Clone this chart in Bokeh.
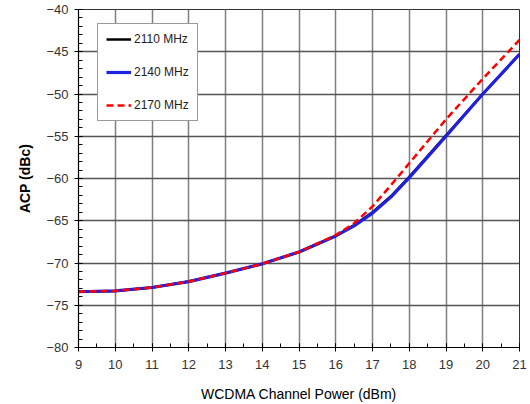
from bokeh.plotting import figure
from bokeh.models import SingleIntervalTicker, Legend, LegendItem, Range1d
from bokeh.embed import file_html
from bokeh.resources import INLINE

# WCDMA channel power (dBm)
power = [9, 10, 11, 12, 13, 14, 15, 16, 16.5, 17, 17.5, 18, 19, 20, 21]

# ACP (dBc) per carrier frequency
acp_2110 = [-73.4, -73.3, -72.9, -72.2, -71.2, -70.1, -68.7, -66.8, -65.5, -64.0, -62.1, -59.8, -54.9, -50.0, -45.3]
acp_2140 = [-73.4, -73.3, -72.9, -72.2, -71.2, -70.1, -68.7, -66.8, -65.6, -64.1, -62.2, -59.9, -55.0, -50.0, -45.3]
acp_2170 = [-73.4, -73.3, -72.9, -72.2, -71.2, -70.1, -68.7, -66.7, -65.3, -63.3, -60.8, -58.2, -53.0, -48.2, -43.6]

FONT = "Liberation Sans"

p = figure(width=530, height=404, output_backend="svg", toolbar_location=None,
           x_range=Range1d(9, 21), y_range=Range1d(-80, -40),
           min_border_left=78, min_border_right=11, min_border_top=9, min_border_bottom=57)

p.background_fill_color = "white"
p.border_fill_color = "white"
p.outline_line_color = "#333333"
p.outline_line_width = 1

p.xaxis.ticker = SingleIntervalTicker(interval=1, num_minor_ticks=2)
p.yaxis.ticker = SingleIntervalTicker(interval=5, num_minor_ticks=5)

p.xgrid.grid_line_color = "#7f7f7f"
p.ygrid.grid_line_color = "#555555"
p.xgrid.grid_line_width = 1.5
p.ygrid.grid_line_width = 1.5

for ax in (p.xaxis, p.yaxis):
    ax.axis_line_color = "black"
    ax.axis_line_width = 1.2
    ax.major_tick_line_color = "black"
    ax.minor_tick_line_color = "black"
    ax.major_tick_in = 4
    ax.major_tick_out = 4
    ax.minor_tick_in = 4
    ax.minor_tick_out = 0
    ax.major_label_text_font = FONT
    ax.major_label_text_font_size = "13px"
    ax.major_label_text_color = "#333333"
    ax.axis_label_text_font = FONT
    ax.axis_label_text_font_size = "14px"
    ax.axis_label_text_color = "black"

p.xaxis.axis_label = "WCDMA Channel Power (dBm)"
p.xaxis.axis_label_text_font_style = "normal"
p.xaxis.major_label_standoff = 8
p.xaxis.axis_label_standoff = 14
p.yaxis.axis_label = "ACP (dBc)"
p.yaxis.axis_label_text_font_style = "bold"
p.yaxis.major_label_standoff = 6
p.yaxis.axis_label_standoff = 10

r1 = p.line(power, acp_2110, line_color="black", line_width=2.5)
r2 = p.line(power, acp_2140, line_color="#2020e0", line_width=3.2)
r3 = p.line(power, acp_2170, line_color="#ff0000", line_width=2.5, line_dash="7 4")

legend = Legend(items=[LegendItem(label="2110 MHz", renderers=[r1]),
                       LegendItem(label="2140 MHz", renderers=[r2]),
                       LegendItem(label="2170 MHz", renderers=[r3])],
                location=(19, 226))
legend.label_text_font = FONT
legend.label_text_font_size = "12px"
legend.label_text_color = "#222222"
legend.border_line_color = "#333333"
legend.border_line_width = 1
legend.background_fill_alpha = 1
legend.spacing = 19
legend.padding = 8
legend.glyph_width = 25
legend.glyph_height = 14
legend.label_height = 14
legend.label_standoff = 3
legend.margin = 0
p.add_layout(legend, "center")

open("out.html", "w").write(file_html(p, INLINE))
